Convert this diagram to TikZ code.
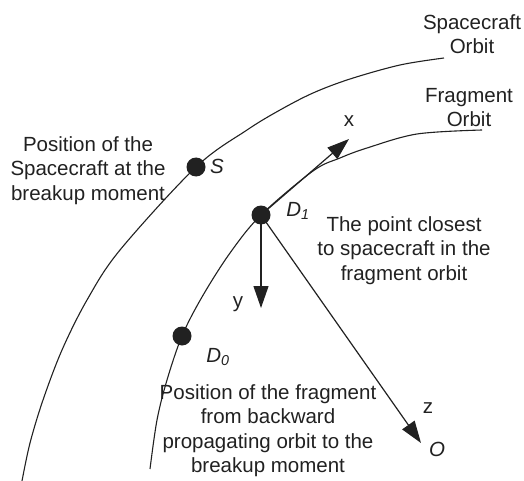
\documentclass[tikz,border=0pt]{standalone}
\usepackage{fontspec}
\setmainfont{Liberation Sans}
\usetikzlibrary{arrows.meta}
\definecolor{ink}{gray}{0.13}
\begin{document}
\begin{tikzpicture}[x=1pt,y=-1pt,
  orbit/.style={line width=1.1pt,draw=ink},
  axisarrow/.style={line width=1.2pt,draw=ink,-{Triangle[length=22pt,width=15pt]}},
  dot/.style={circle,fill=ink,inner sep=0pt,minimum size=19pt},
  lbl/.style={font=\fontsize{20.5}{24.5}\selectfont,inner sep=0pt,align=center,text=ink},
  sym/.style={font=\fontsize{20.5}{24.5}\selectfont,inner sep=0pt,anchor=base,text=ink},
  ]
\useasboundingbox (0,0) rectangle (524,481);
% point positions
\coordinate (pS) at (196,167);
\coordinate (pD1) at (261,215);
\coordinate (pD0) at (182,336);
\coordinate (xt) at (349,139);
\coordinate (yt) at (261,308);
\coordinate (zt) at (421,443);
% orbits
\draw[orbit] plot[smooth,tension=0.55] coordinates {(22,481) (30,443) (43,400) (62,350) (87,300) (120,250) (pS) (247,130) (280,110) (313,93) (350,79) (400,65) (444,58)};
\draw[orbit] plot[smooth,tension=0.55] coordinates {(150,469) (157,420) (167,380) (pD0) (202,297) (230,253) (pD1) (313,171) (340,158) (367,148) (417,134) (482,130)};
% dots
\node[dot] (S) at (pS) {};
\node[dot] (D1) at (pD1) {};
\node[dot] (D0) at (pD0) {};
% axes
\draw[axisarrow] (D1.center) -- (xt);
\draw[axisarrow] (D1.center) -- (yt);
\draw[axisarrow] (D1.center) -- (zt);
% symbol labels
\node[sym] (Sl) at (217,174) {\itshape S};
\node[sym] (D1l) at (298,216) {\itshape D\textsubscript{1}};
\node[sym] (D0l) at (218,362) {\itshape D\textsubscript{0}};
\node[sym] (xl) at (349,127) {x};
\node[sym] (yl) at (238,307) {y};
\node[sym] (zl) at (428,413) {z};
\node[sym] (Ol) at (437,456) {\itshape O};
% text labels
\node[lbl,anchor=north] (sco) at (472,14) {Spacecraft\\Orbit};
\node[lbl,anchor=north] (fro) at (469,88) {Fragment\\Orbit};
\node[lbl,anchor=north] (posS) at (88,136) {Position of the\\Spacecraft at the\\breakup moment};
\node[lbl,anchor=north] (closest) at (404,216) {The point closest\\to spacecraft in the\\fragment orbit};
\node[lbl,anchor=north] (posF) at (268,384) {Position of the fragment\\from backward\\propagating orbit to the\\breakup moment};
\end{tikzpicture}
\end{document}
